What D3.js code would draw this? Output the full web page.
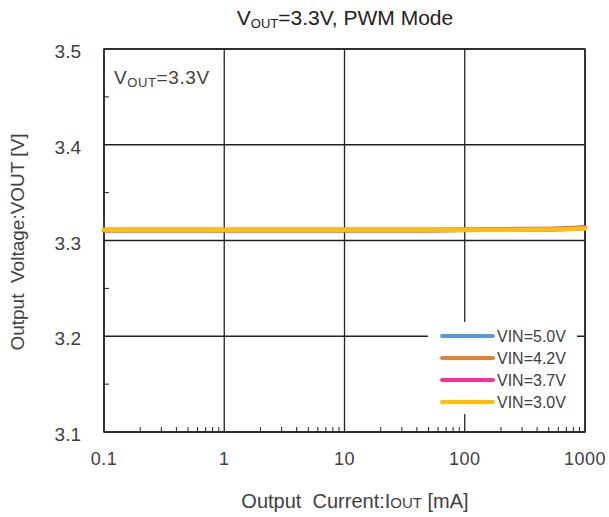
<!DOCTYPE html>
<html><head><meta charset="utf-8">
<script src="https://cdn.jsdelivr.net/npm/d3@7"></script>
<style>body{margin:0;background:#fff;} svg{display:block;font-family:"Liberation Sans",Arial,sans-serif;}</style>
</head><body>
<script>
const currents = [0.1, 0.2, 0.5, 1, 2, 5, 10, 20, 50, 100, 200, 500, 1000];
const vin50 = [3.3110, 3.3110, 3.3110, 3.3110, 3.3110, 3.3110, 3.3110, 3.3110, 3.3110, 3.3112, 3.3118, 3.3120, 3.3135];
const vin42 = [3.3108, 3.3108, 3.3108, 3.3108, 3.3108, 3.3108, 3.3108, 3.3108, 3.3108, 3.3110, 3.3112, 3.3115, 3.3130];
const vin37 = [3.3110, 3.3110, 3.3110, 3.3110, 3.3110, 3.3110, 3.3110, 3.3110, 3.3110, 3.3111, 3.3113, 3.3118, 3.3133];
const vin30 = [3.3112, 3.3112, 3.3112, 3.3112, 3.3112, 3.3112, 3.3112, 3.3112, 3.3112, 3.3112, 3.3112, 3.3115, 3.3125];
const seriesNames = ["VIN=5.0V", "VIN=4.2V", "VIN=3.7V", "VIN=3.0V"];
const seriesColors = ["#5B9BD5", "#ED7D31", "#F7339A", "#FFC000"];
const xTicks = [0.1, 1, 10, 100, 1000];
const xTickLabels = ["0.1", "1", "10", "100", "1000"];
const yTicks = [3.1, 3.2, 3.3, 3.4, 3.5];
const yTickLabels = ["3.1", "3.2", "3.3", "3.4", "3.5"];

const W = 609, H = 517;
const m = {left: 104, right: 585, top: 49, bottom: 432};
const svg = d3.select("body").append("svg").attr("width", W).attr("height", H);
const x = d3.scaleLog().domain([0.1, 1000]).range([m.left, m.right]);
const y = d3.scaleLinear().domain([3.1, 3.5]).range([m.bottom, m.top]);
const gridColor = "#222";
const txt = "#404040";

// minor x ticks
const minorX = [];
for (let d = 0.1; d < 1000; d *= 10) for (let k = 2; k <= 9; k++) minorX.push(d * k);
svg.append("g").selectAll("line").data(minorX).join("line")
  .attr("x1", d => x(d)).attr("x2", d => x(d))
  .attr("y1", m.bottom).attr("y2", m.bottom - 5)
  .attr("stroke", gridColor).attr("stroke-width", 1);
// minor y ticks
const minorY = [3.15, 3.25, 3.35, 3.45];
svg.append("g").selectAll("line").data(minorY).join("line")
  .attr("x1", m.left).attr("x2", m.left + 5)
  .attr("y1", d => y(d)).attr("y2", d => y(d))
  .attr("stroke", gridColor).attr("stroke-width", 1);

// grid
svg.append("g").selectAll("line").data(xTicks).join("line")
  .attr("x1", d => x(d)).attr("x2", d => x(d))
  .attr("y1", m.top).attr("y2", m.bottom)
  .attr("stroke", gridColor).attr("stroke-width", 1.3);
svg.append("g").selectAll("line").data(yTicks).join("line")
  .attr("x1", m.left).attr("x2", m.right)
  .attr("y1", d => y(d)).attr("y2", d => y(d))
  .attr("stroke", gridColor).attr("stroke-width", 1.3);
svg.append("rect").attr("x", m.left).attr("y", m.top)
  .attr("width", m.right - m.left).attr("height", m.bottom - m.top)
  .attr("fill", "none").attr("stroke", gridColor).attr("stroke-width", 1.5);

// tick labels
svg.append("g").selectAll("text").data(xTicks).join("text")
  .attr("x", d => x(d)).attr("y", 465)
  .attr("text-anchor", "middle").attr("font-size", 18).attr("letter-spacing", 0.5).attr("fill", txt)
  .text((d, i) => xTickLabels[i]);
svg.append("g").selectAll("text").data(yTicks).join("text")
  .attr("x", 81).attr("y", d => y(d) + 9)
  .attr("text-anchor", "end").attr("font-size", 19).attr("fill", txt)
  .text((d, i) => yTickLabels[i]);

// lines
const allSeries = [vin50, vin42, vin37, vin30];
const line = d3.line().x((d, i) => x(currents[i])).y(d => y(d)).curve(d3.curveMonotoneX);
allSeries.forEach((s, k) => {
  svg.append("path").datum(s).attr("d", line)
    .attr("fill", "none").attr("stroke", seriesColors[k]).attr("stroke-width", 4.5)
    .attr("stroke-linecap", "round");
});

// legend
const lg = svg.append("g");
lg.append("rect").attr("x", 428).attr("y", 322).attr("width", 149).attr("height", 92).attr("fill", "#fff");
seriesNames.forEach((n, k) => {
  const yy = 336 + k * 22;
  lg.append("line").attr("x1", 442).attr("x2", 493).attr("y1", yy).attr("y2", yy)
    .attr("stroke", seriesColors[k]).attr("stroke-width", 4).attr("stroke-linecap", "round");
  lg.append("text").attr("x", 497).attr("y", yy + 6).attr("font-size", 16)
    .attr("fill", txt).text(n);
});

// annotation
const ann = svg.append("text").attr("x", 114).attr("y", 84).attr("font-size", 19).attr("letter-spacing", 0.6).attr("fill", txt);
ann.append("tspan").text("V");
ann.append("tspan").attr("font-size", 13).attr("dy", 3).text("OUT");
ann.append("tspan").attr("dy", -3).text("=3.3V");

// title
const t = svg.append("text").attr("x", 345).attr("y", 25).attr("text-anchor", "middle").attr("font-size", 21).attr("fill", "#222");
t.append("tspan").text("V");
t.append("tspan").attr("font-size", 13).attr("dy", 3).text("OUT");
t.append("tspan").attr("dy", -3).text("=3.3V, PWM Mode");

// axis titles
const xt = svg.append("text").attr("x", 355).attr("y", 508).attr("text-anchor", "middle").attr("font-size", 20).attr("fill", txt);
xt.append("tspan").attr("xml:space", "preserve").text("Output  Current:I");
xt.append("tspan").attr("font-size", 15).text("OUT");
xt.append("tspan").text(" [mA]");
svg.append("text").attr("transform", "translate(24,242) rotate(-90)")
  .attr("text-anchor", "middle").attr("font-size", 19).attr("fill", txt)
  .attr("xml:space", "preserve").text("Output  Voltage:VOUT [V]");
</script>
</body></html>
